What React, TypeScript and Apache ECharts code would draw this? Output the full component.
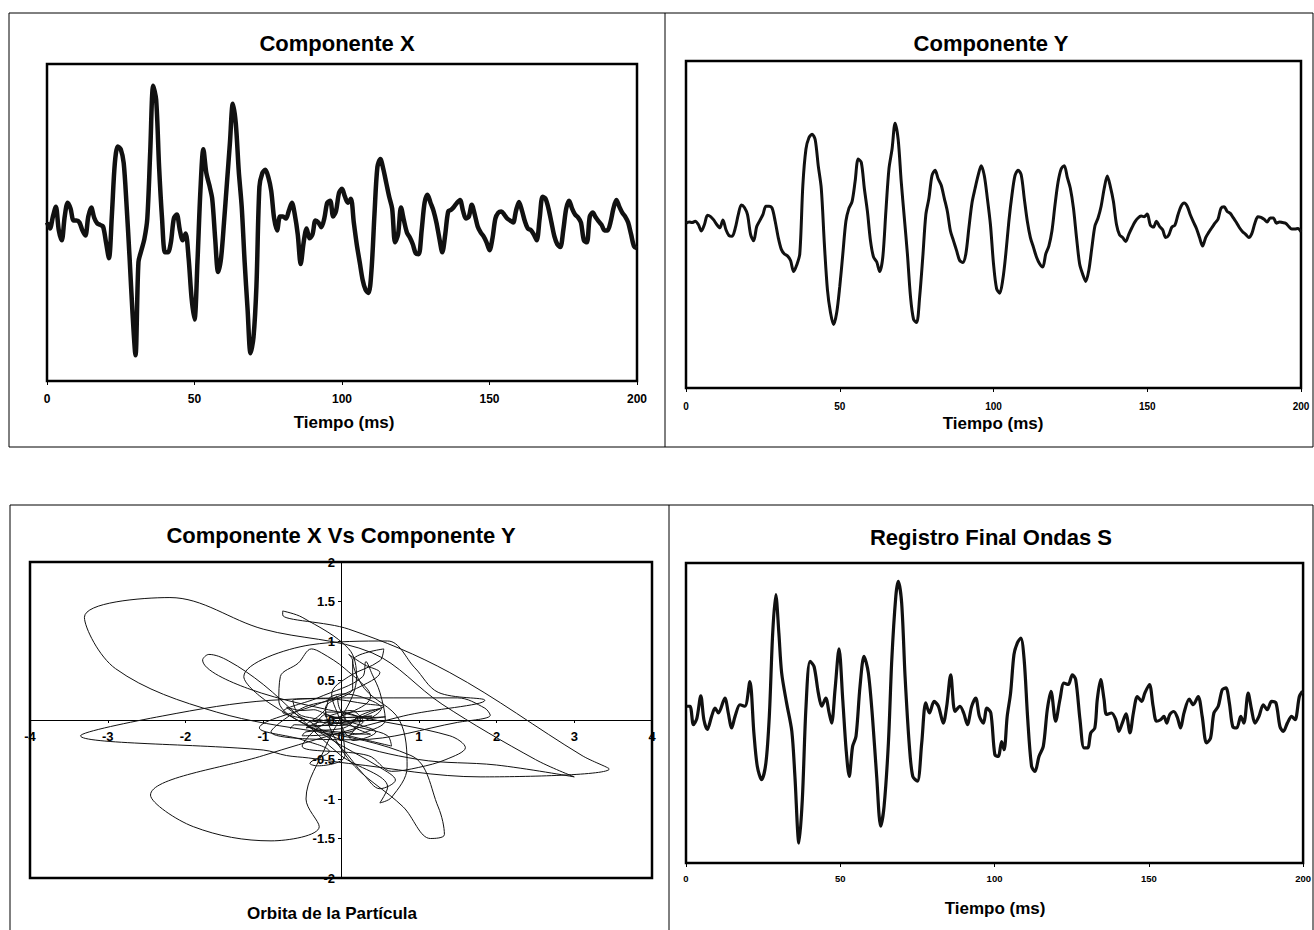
import React, { useEffect, useRef } from "react";
import * as echarts from "echarts";

// Particle motion record: two horizontal components sampled every millisecond (0–200 ms)
const SAMPLE_STEP_MS = 1;

const componentX = [
  0, -0.15, 0.15, 0.4, -0.2, -0.45, 0.15, 0.5, 0.35, 0.05,
  0.05, 0.0, -0.2, -0.33, 0.15, 0.38, 0.12, -0.02, -0.06, -0.1,
  -0.5, -0.9, 0.2, 1.5, 1.92, 1.85, 1.5, 0.4, -0.9, -2.3,
  -3.35, -1.0, -0.7, -0.42, 0.1, 1.8, 3.45, 3.1, 1.4, 0.1,
  -0.75, -0.75, -0.5, 0.1, 0.2, -0.18, -0.45, -0.28, -0.9, -1.9,
  -2.45, -1.0, 0.8, 1.85, 1.25, 0.95, 0.6, -0.4, -1.25, -0.9,
  0.0, 1.0, 2.0, 3.0, 2.5, 1.3, 0.4, -1.0, -2.2, -3.3,
  -2.9, -1.6, 0.9, 1.25, 1.33, 1.15, 0.8, 0.1, -0.2, 0.15,
  0.15, 0.1, 0.3, 0.5, 0.2, -0.3, -1.05, -0.5, -0.15, -0.4,
  -0.3, 0.05, 0.0, -0.12, 0.1, 0.5, 0.55, 0.15, 0.3, 0.75,
  0.85, 0.65, 0.5, 0.6, 0.0, -0.55, -1.0, -1.45, -1.7, -1.78,
  -1.2, 0.2, 1.4, 1.6, 1.35, 1.0, 0.65, 0.35, -0.5, -0.3,
  0.38, 0.05, -0.25, -0.38, -0.55, -0.78, -0.8, -0.2, 0.5, 0.7,
  0.5, 0.3, 0.0, -0.4, -0.75, -0.3, 0.28, 0.32, 0.4, 0.5,
  0.57, 0.3, 0.1, 0.15, 0.45, 0.2, -0.1, -0.25, -0.35, -0.5,
  -0.7, -0.4, 0.1, 0.25, 0.28, 0.2, 0.1, 0.05, 0.0, 0.3,
  0.52, 0.3, 0.03, -0.15, -0.19, -0.3, -0.45, 0.1, 0.65, 0.6,
  0.35, 0.0, -0.35, -0.55, -0.62, -0.2, 0.35, 0.55, 0.35, 0.2,
  0.13, 0.0, -0.45, -0.5, 0.15, 0.25, 0.13, 0.03, -0.06, -0.2,
  -0.2, 0.0, 0.35, 0.57, 0.4, 0.25, 0.15, 0.0, -0.3, -0.6,
  -0.65,
];

const componentY = [
  0.02, 0.04, 0.03, 0.05, 0.0, -0.1, 0.0, 0.14, 0.12, 0.07,
  0.0, -0.05, 0.07, -0.08, -0.17, -0.18, -0.06, 0.15, 0.3, 0.26,
  0.15, -0.15, -0.25, -0.03, 0.06, 0.15, 0.28, 0.28, 0.25, 0.05,
  -0.2, -0.38, -0.45, -0.48, -0.55, -0.72, -0.62, -0.45, 0.6, 1.15,
  1.33, 1.38, 1.3, 0.9, 0.55, -0.3, -1.0, -1.35, -1.53, -1.35,
  -0.95, -0.45, 0.05, 0.25, 0.35, 0.66, 1.0, 0.95, 0.55, 0.2,
  -0.25, -0.5, -0.57, -0.72, -0.5, 0.2, 0.85, 1.15, 1.55, 1.3,
  0.65, 0.1, -0.45, -1.1, -1.45, -1.5, -1.1, -0.5, 0.15, 0.4,
  0.75, 0.83, 0.7, 0.6, 0.4, 0.2, -0.1, -0.25, -0.4, -0.55,
  -0.58, -0.45, -0.05, 0.33, 0.55, 0.75, 0.9, 0.75, 0.4, 0.0,
  -0.6, -0.98, -1.05, -0.85, -0.45, 0.05, 0.45, 0.75, 0.83, 0.76,
  0.4, 0.05, -0.2, -0.35, -0.5, -0.6, -0.65, -0.45, -0.33, -0.1,
  0.3, 0.65, 0.85, 0.9, 0.72, 0.55, 0.25, -0.2, -0.6, -0.76,
  -0.87, -0.7, -0.35, -0.02, 0.1, 0.28, 0.55, 0.74, 0.58, 0.35,
  0.0, -0.16, -0.2, -0.26, -0.15, -0.05, 0.04, 0.1, 0.13, 0.12,
  0.16, -0.01, -0.04, 0.05, -0.03, -0.08, -0.2, -0.16, -0.04, -0.01,
  0.15, 0.28, 0.33, 0.28, 0.15, 0.04, -0.06, -0.2, -0.33, -0.2,
  -0.12, -0.05, 0.02, 0.08, 0.25, 0.27, 0.2, 0.17, 0.1, 0.03,
  -0.05, -0.11, -0.15, -0.2, -0.14, 0.02, 0.12, 0.11, 0.08, 0.04,
  0.1, 0.1, 0.02, 0.04, 0.03, 0.02, -0.03, -0.07, -0.07, -0.06,
  -0.11,
];

// Final S-wave record (time in ms, amplitude)
const finalTimes = [
  0.2, 1.3, 2.4, 3.5, 4.8, 5.8, 6.9, 8.3, 9.4, 10.5,
  12.6, 13.7, 14.8, 15.9, 17.5, 19.1, 20.7, 22.0, 23.1, 24.5,
  25.9, 27.0, 28.1, 29.1, 30.1, 31.0, 32.6, 34.3, 35.3, 36.6,
  37.7, 38.9, 40.2, 41.5, 42.9, 44.0, 45.3, 46.4, 47.2, 48.3,
  49.6, 50.8, 51.9, 52.9, 54.0, 55.1, 56.4, 57.7, 59.1, 60.5,
  61.8, 63.1, 64.2, 65.6, 66.7, 68.0, 68.8, 69.9, 71.0, 72.4,
  73.5, 75.0, 76.4, 77.7, 78.9, 80.4, 81.8, 83.4, 84.5, 85.8,
  87.2, 88.8, 90.0, 91.2, 92.6, 93.9, 95.1, 96.4, 97.5, 98.8,
  100.1, 101.2, 102.3, 103.1, 104.1, 105.2, 106.3, 107.4, 108.5, 109.6,
  110.7, 112.0, 113.1, 114.4, 115.8, 117.1, 118.3, 119.8, 121.2, 122.5,
  123.9, 125.2, 126.3, 127.7, 129.0, 130.2, 131.2, 132.5, 133.3, 134.4,
  135.5, 136.3, 137.9, 139.3, 140.3, 141.4, 142.6, 143.9, 145.0, 146.3,
  147.7, 148.7, 150.2, 151.4, 152.5, 153.8, 154.9, 155.8, 156.8, 158.1,
  159.3, 160.3, 161.4, 163.1, 164.4, 166.0, 167.3, 168.7, 170.0, 171.1,
  172.5, 173.8, 175.0, 176.1, 177.2, 178.5, 179.8, 180.8, 182.2, 183.3,
  184.4, 185.7, 187.1, 188.4, 189.8, 191.2, 192.5, 193.6, 194.9, 196.3,
  197.4, 198.8, 199.8,
];

const finalValues = [
  0.18, 0.18, -0.31, -0.15, 0.46, -0.18, -0.44, -0.09, 0.13, 0.0,
  0.4, 0.0, -0.4, -0.09, 0.22, 0.18, 0.84, -0.53, -1.42, -1.78,
  -1.33, -0.09, 2.13, 3.16, 2.13, 1.07, 0.27, -0.49, -1.69, -3.47,
  -2.31, 0.18, 1.38, 1.24, 0.53, 0.18, 0.4, 0.0, -0.27, 0.62,
  1.71, 0.36, -0.98, -1.69, -0.89, -0.62, 0.71, 1.51, 1.07, -0.18,
  -1.69, -3.02, -2.49, -0.8, 1.42, 3.11, 3.51, 2.93, 0.98, -0.89,
  -1.69, -1.82, -0.8, 0.27, 0.0, 0.31, 0.18, -0.27, 0.18, 1.02,
  0.04, 0.18, 0.0, -0.31, 0.18, 0.4, -0.09, -0.27, 0.13, 0.0,
  -1.11, -1.16, -0.76, -0.98, -0.09, 0.53, 1.56, 1.87, 2.0, 1.42,
  -0.09, -1.42, -1.56, -1.16, -0.89, 0.09, 0.58, -0.22, 0.36, 0.8,
  0.76, 1.02, 0.89, -0.18, -0.93, -0.93, -0.53, -0.4, 0.36, 0.89,
  0.36, -0.04, 0.0, -0.18, -0.49, -0.27, -0.02, -0.53, 0.0, 0.44,
  0.31, 0.53, 0.76, 0.18, -0.22, -0.18, -0.09, -0.27, -0.04, 0.04,
  -0.13, -0.4, 0.0, 0.37, 0.22, 0.44, -0.09, -0.8, -0.67, 0.0,
  0.18, 0.62, 0.67, 0.27, -0.36, -0.4, -0.09, -0.27, 0.53, 0.09,
  -0.27, -0.09, 0.22, 0.09, 0.31, 0.27, -0.36, -0.49, -0.27, -0.09,
  -0.18, 0.44, 0.58,
];

const TIME_MAX = 200;
const TIME_STEP = 50;

const FONT = '"Liberation Sans", Arial, Helvetica, sans-serif';

const sampleTimes = componentX.map((_, i) => i * SAMPLE_STEP_MS);

// Orbit plot box (the crossing axes sit in its middle)
const ORBIT_GRID = { left: 30, top: 562, width: 622, height: 316 };

function timeAxis(gridIndex: number, fontSize: number, margin: number) {
  return {
    type: "value",
    gridIndex,
    min: 0,
    max: TIME_MAX,
    interval: TIME_STEP,
    axisLine: { show: true, onZero: false, lineStyle: { color: "#000", width: 2 } },
    axisTick: { show: true, length: 4, lineStyle: { color: "#000", width: 1 } },
    axisLabel: {
      color: "#000",
      fontSize,
      fontWeight: "bold",
      fontFamily: FONT,
      margin,
    },
    splitLine: { show: false },
  };
}

function hiddenAmplitudeAxis(gridIndex: number, limit: number) {
  return {
    type: "value",
    gridIndex,
    min: -limit,
    max: limit,
    axisLine: { show: false },
    axisTick: { show: false },
    axisLabel: { show: false },
    splitLine: { show: false },
  };
}

function textEl(text: string, x: number, y: number, size: number) {
  return {
    type: "text",
    x,
    y,
    silent: true,
    style: {
      text,
      fill: "#000",
      font: `bold ${size}px ${FONT}`,
      align: "center",
      verticalAlign: "middle",
      textAlign: "center",
      textVerticalAlign: "middle",
    },
  };
}

function lineEl(x1: number, y1: number, x2: number, y2: number) {
  return {
    type: "line",
    silent: true,
    shape: { x1, y1, x2, y2 },
    style: { stroke: "#000", lineWidth: 1 },
  };
}

export default function App() {
  const ref = useRef<HTMLDivElement>(null);

  useEffect(() => {
    if (!ref.current) return;
    const chart = echarts.init(ref.current, undefined, { renderer: "svg" });

    const xData = sampleTimes.map((t, i) => [t, componentX[i]]);
    const yData = sampleTimes.map((t, i) => [t, componentY[i]]);
    const orbitData = componentX.map((v, i) => [v, componentY[i]]);
    const finalData = finalTimes.map((t, i) => [t, finalValues[i]]);

    const gridBase = {
      show: true,
      borderColor: "#000",
      borderWidth: 2.5,
      backgroundColor: "transparent",
      containLabel: false,
    };

    chart.setOption({
      animation: false,
      backgroundColor: "#fff",
      grid: [
        { ...gridBase, left: 47, top: 64, width: 590, height: 317 },
        { ...gridBase, left: 686, top: 61, width: 615, height: 327 },
        { ...gridBase, ...ORBIT_GRID },
        { ...gridBase, left: 686, top: 563, width: 618, height: 300 },
      ],
      xAxis: [
        timeAxis(0, 12, 12),
        timeAxis(1, 10, 13),
        {
          type: "value",
          gridIndex: 2,
          min: -4,
          max: 4,
          interval: 1,
          position: "bottom",
          offset: -ORBIT_GRID.height / 2,
          axisLine: { show: true, onZero: false, lineStyle: { color: "#000", width: 1 } },
          axisTick: { show: true, length: 3, lineStyle: { color: "#000" } },
          axisLabel: { color: "#000", fontSize: 13, fontWeight: "bold", fontFamily: FONT, margin: 10 },
          splitLine: { show: false },
        },
        timeAxis(3, 9.5, 10),
      ],
      yAxis: [
        hiddenAmplitudeAxis(0, 4),
        hiddenAmplitudeAxis(1, 2.5),
        {
          type: "value",
          gridIndex: 2,
          min: -2,
          max: 2,
          interval: 0.5,
          position: "left",
          offset: -ORBIT_GRID.width / 2,
          axisLine: { show: true, onZero: false, lineStyle: { color: "#000", width: 1 } },
          axisTick: { show: true, length: 3, lineStyle: { color: "#000" } },
          axisLabel: { color: "#000", fontSize: 13, fontWeight: "bold", fontFamily: FONT, margin: 6 },
          splitLine: { show: false },
        },
        hiddenAmplitudeAxis(3, 4),
      ],
      series: [
        {
          type: "line",
          name: "Componente X",
          xAxisIndex: 0,
          yAxisIndex: 0,
          data: xData,
          symbol: "none",
          smooth: 0.3,
          lineStyle: { color: "#111", width: 4.5 },
        },
        {
          type: "line",
          name: "Componente Y",
          xAxisIndex: 1,
          yAxisIndex: 1,
          data: yData,
          symbol: "none",
          smooth: 0.3,
          lineStyle: { color: "#111", width: 3 },
        },
        {
          type: "line",
          name: "Orbita",
          xAxisIndex: 2,
          yAxisIndex: 2,
          data: orbitData,
          symbol: "none",
          smooth: 0.35,
          lineStyle: { color: "#111", width: 1 },
        },
        {
          type: "line",
          name: "Registro Final Ondas S",
          xAxisIndex: 3,
          yAxisIndex: 3,
          data: finalData,
          symbol: "none",
          smooth: 0.3,
          lineStyle: { color: "#111", width: 3.2 },
        },
      ],
      graphic: [
        // panel frames
        lineEl(9, 13, 1313, 13),
        lineEl(9, 447, 1313, 447),
        lineEl(9, 13, 9, 447),
        lineEl(665, 13, 665, 447),
        lineEl(1313, 13, 1313, 447),
        lineEl(10, 505, 1313, 505),
        lineEl(10, 505, 10, 930),
        lineEl(669, 505, 669, 930),
        lineEl(1313, 505, 1313, 930),
        // titles and axis names
        textEl("Componente X", 337, 43, 22),
        textEl("Tiempo (ms)", 344, 422, 17),
        textEl("Componente Y", 991, 43, 22),
        textEl("Tiempo (ms)", 993, 423, 17),
        textEl("Componente X Vs Componente Y", 341, 535, 22),
        textEl("Orbita de la Partícula", 332, 913, 17),
        textEl("Registro Final Ondas S", 991, 537, 22),
        textEl("Tiempo (ms)", 995, 908, 17),
      ],
    });

    return () => chart.dispose();
  }, []);

  return (
    <div
      ref={ref}
      style={{ position: "fixed", left: 0, top: 0, width: 1314, height: 930, background: "#fff" }}
    />
  );
}
